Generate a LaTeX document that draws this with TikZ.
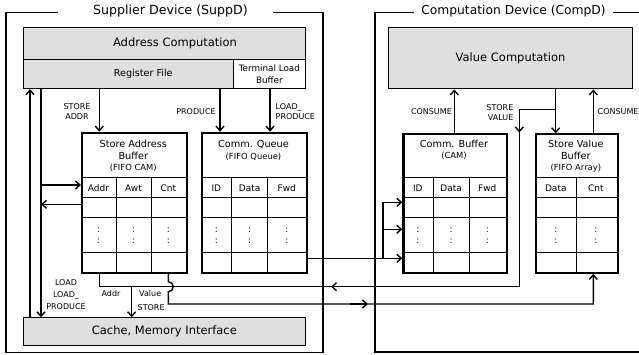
\documentclass[tikz,border=0pt]{standalone}
\usepackage{fontspec}
\setmainfont{DejaVu Sans}
\usepackage{tikz}
\usetikzlibrary{arrows.meta, positioning, calc}
\definecolor{BOXGRAY}{HTML}{DFDFDF}
\definecolor{BLACK}{HTML}{000000}

\tikzset{
  devline/.style={BLACK, line width=1.5pt},
  devtitle/.style={font=\fontsize{12.6}{15}\selectfont, inner sep=0pt},
  graybox/.style={draw=BLACK, line width=1.1pt, fill=BOXGRAY, inner sep=0pt, anchor=north west},
  plainbox/.style={draw=BLACK, line width=1.1pt, fill=white, inner sep=0pt, anchor=north west},
  buffbox/.style={draw=BLACK, line width=2.2pt, inner sep=0pt, anchor=north west},
  cell/.style={BLACK, line width=1pt},
  bigtxt/.style={font=\fontsize{11.5}{14}\selectfont, inner sep=0pt},
  midtxt/.style={font=\fontsize{9.7}{12}\selectfont, inner sep=0pt, align=center},
  subtxt/.style={font=\fontsize{8.4}{10}\selectfont, inner sep=0pt},
  coltxt/.style={font=\fontsize{9}{11}\selectfont, inner sep=0pt},
  dottxt/.style={font=\fontsize{9}{11}\selectfont, inner sep=0pt},
  lbl/.style={font=\fontsize{8}{10}\selectfont, inner sep=0pt, align=center},
  wire/.style={BLACK, line width=1.4pt},
  arr/.style={wire, -{Straight Barb[length=4.5pt, width=8pt]}},
}

\begin{document}
\begin{tikzpicture}[x=1pt, y=-1pt]
    \useasboundingbox (0,0) rectangle (639,355);

    % wire positions
    \coordinate (xl1) at (30,0);
    \coordinate (xl2) at (41,0);
    \coordinate (xsa) at (99.3,0);
    \coordinate (xst) at (131.7,0);
    \coordinate (xval) at (168.3,0);
    \coordinate (xprod) at (220,0);
    \coordinate (xlp) at (270,0);
    \coordinate (xc1) at (454.3,0);
    \coordinate (xsv2) at (519.3,0);
    \coordinate (xsv) at (555.7,0);
    \coordinate (xc2) at (593.3,0);
    \coordinate (ybr) at (0,109.3);
    \coordinate (yin) at (0,185);
    \coordinate (yout) at (0,204.3);
    \coordinate (yaddr) at (0,286.7);
    \coordinate (yval) at (0,304);
    \coordinate (b1) at (383,202.3);
    \coordinate (b2) at (383,229.3);
    \coordinate (b3) at (383,258.3);

    % Supplier Device
    \draw[devline] (58,12.5) -- (6,12.5) -- (6,352.5) -- (323,352.5) -- (323,12.5) -- (273,12.5);
    \node[devtitle] (supptitle) at (170.5,11.5) {Supplier Device (SuppD)};

    \node[graybox, minimum width=282.3pt, minimum height=32pt] (addr) at (22.7,27) {};
    \node[bigtxt] (addrtxt) at (175,43) {Address Computation};
    \node[graybox, minimum width=210pt, minimum height=29pt] (regf) at (22.7,59) {};
    \node[font=\fontsize{9.6}{11}\selectfont, inner sep=0pt] (regftxt) at (143.3,73.5) {Register File};
    \node[plainbox, minimum width=72.3pt, minimum height=29pt, align=center,
          font=\fontsize{8.8}{11.7}\selectfont] (tlb) at (232.7,59) {Terminal Load\\Buffer};
    \node[graybox, minimum width=282.3pt, minimum height=27.7pt, font=\fontsize{11.5}{14}\selectfont] (cache) at (22.7,317.3) {Cache, Memory Interface};

    % store address buffer
    \node[buffbox, minimum width=104.7pt, minimum height=140pt] (sab) at (81,131.7) {};
    \node[midtxt] (sabtitle) at (133.3,150) {Store Address\\Buffer};
    \node[subtxt] (sabsub) at (133.3,167.5) {(FIFO CAM)};
    \foreach \y in {178,198,218,252}
        \draw[cell] (sab.west |- 0,\y) -- (sab.east |- 0,\y);
    \foreach \x in {116,151}
        \draw[cell] (\x,178) -- (sab.south -| \x,0);
    \foreach \x/\t [count=\i] in {98.5/Addr,133.5/Awt,168.3/Cnt} {
        \node[coltxt] (sabhead\i) at (\x,188.5) {\t};
        \node[dottxt] (sabdota\i) at (\x,229.8) {:};
        \node[dottxt] (sabdotb\i) at (\x,241.2) {:};
    }

    % communication queue
    \node[buffbox, minimum width=105pt, minimum height=140pt] (cq) at (201,131.7) {};
    \node[midtxt] (cqtitle) at (253.5,145) {Comm. Queue};
    \node[subtxt] (cqsub) at (253.5,157) {(FIFO Queue)};
    \foreach \y in {178,198,218,252}
        \draw[cell] (cq.west |- 0,\y) -- (cq.east |- 0,\y);
    \foreach \x in {231.7,267.7}
        \draw[cell] (\x,178) -- (cq.south -| \x,0);
    \foreach \x/\t [count=\i] in {216.3/ID,249.7/Data,286.8/Fwd} {
        \node[coltxt] (cqhead\i) at (\x,188.5) {\t};
        \node[dottxt] (cqdota\i) at (\x,229.8) {:};
        \node[dottxt] (cqdotb\i) at (\x,241.2) {:};
    }

    % Computation Device
    \draw[devline] (414,12.5) -- (375,12.5) -- (375,352) -- (645,352) -- (645,12.5) -- (613,12.5);
    \node[devtitle, font=\fontsize{12.3}{15}\selectfont] (comptitle) at (513.5,11.5) {Computation Device (CompD)};

    \node[graybox, minimum width=243.4pt, minimum height=61pt, font=\fontsize{11.5}{14}\selectfont] (valc) at (388.3,27.3) {Value Computation};

    % communication buffer
    \node[buffbox, minimum width=103.4pt, minimum height=138.4pt] (cb) at (402.3,133.3) {};
    \node[midtxt] (cbtitle) at (454,144) {Comm. Buffer};
    \node[subtxt] (cbsub) at (454,156) {(CAM)};
    \foreach \y in {178,198,218,252}
        \draw[cell] (cb.west |- 0,\y) -- (cb.east |- 0,\y);
    \foreach \x in {433.3,469}
        \draw[cell] (\x,178) -- (cb.south -| \x,0);
    \foreach \x/\t [count=\i] in {417.8/ID,451.2/Data,487.3/Fwd} {
        \node[coltxt] (cbhead\i) at (\x,188.5) {\t};
        \node[dottxt] (cbdota\i) at (\x,229.8) {:};
        \node[dottxt] (cbdotb\i) at (\x,241.2) {:};
    }

    % store value buffer
    \node[buffbox, minimum width=81.7pt, minimum height=138.4pt] (svb) at (535,133.3) {};
    \node[midtxt] (svbtitle) at (575.8,150) {Store Value\\Buffer};
    \node[subtxt] (svbsub) at (575.8,168) {(FIFO Array)};
    \foreach \y in {178,198,218,252}
        \draw[cell] (svb.west |- 0,\y) -- (svb.east |- 0,\y);
    \draw[cell] (576,178) -- (svb.south -| 576,0);
    \foreach \x/\t [count=\i] in {555.8/Data,595.8/Cnt} {
        \node[coltxt] (svbhead\i) at (\x,188.5) {\t};
        \node[dottxt] (svbdota\i) at (\x,229.8) {:};
        \node[dottxt] (svbdotb\i) at (\x,241.2) {:};
    }

    % SuppD connections
    \draw[arr] (regf.south -| xsa) -- (sab.north -| xsa);
    \node[lbl] (storeaddr) at (77,112) {STORE\\ADDR};
    \draw[arr] (regf.south -| xprod) -- (cq.north -| xprod);
    \node[lbl] (produce) at (196,112) {PRODUCE};
    \draw[arr] (tlb.south -| xlp) -- (cq.north -| xlp);
    \node[lbl, align=left, anchor=west] (loadprod) at (275.5,112) {LOAD\_\\PRODUCE};

    \draw[arr] (cache.north -| xl1) -- (regf.south -| xl1);
    \draw[arr] (regf.south -| xl2) -- (cache.north -| xl2);
    \draw[arr] (xl2 |- yin) -- (sab.west |- yin);
    \draw[arr] (sab.west |- yout) -- (xl2 |- yout);
    \node[lbl, font=\fontsize{8}{12}\selectfont] (loadlbl) at (66,295) {LOAD\\LOAD\_\\PRODUCE};

    % store address and value to memory
    \draw[wire] (xsv |- ybr) -- (xsv2 |- ybr) -- (xsv2 |- yaddr) -- (xsa |- yaddr) -- (sab.south -| xsa);
    \draw[arr] (xsv2 |- 0,118) -- (xsv2 |- 0,132.5);
    \draw[arr] (350,286.7) -- (331,286.7);
    \draw[arr] (xst |- yaddr) -- (cache.north -| xst);
    \node[lbl] (addrlbl) at (111,294) {Addr};
    \node[lbl, anchor=west] (valuelbl) at (139,294) {Value};
    \node[lbl, anchor=west] (storelbl) at (137.5,308) {STORE};

    % store value counter
    \draw[arr] (sab.south -| xval) -- (168.3,281.7) arc[start angle=-90, end angle=90, radius=5]
        -- (xval |- yval) -- (xc2 |- yval) -- (svb.south -| xc2);
    \draw[arr] (350,304) -- (368,304);

    % queue to buffer
    \draw[wire] (cq.east |- b3) -- (b3);
    \draw[wire] (b1) -- (b3);
    \foreach \b in {b1,b2,b3}
        \draw[arr] (\b) -- (cb.west |- \b);

    % CompD connections
    \draw[arr] (cb.north -| xc1) -- (valc.south -| xc1);
    \node[lbl, anchor=east] (consume1) at (452,112) {CONSUME};
    \draw[arr] (valc.south -| xsv) -- (svb.north -| xsv);
    \node[lbl, align=right, anchor=east] (storevalue) at (513.5,112.5) {STORE\\VALUE};
    \draw[arr] (svb.north -| xc2) -- (valc.south -| xc2);
    \node[lbl, anchor=west] (consume2) at (597.5,112) {CONSUME};
\end{tikzpicture}
\end{document}
